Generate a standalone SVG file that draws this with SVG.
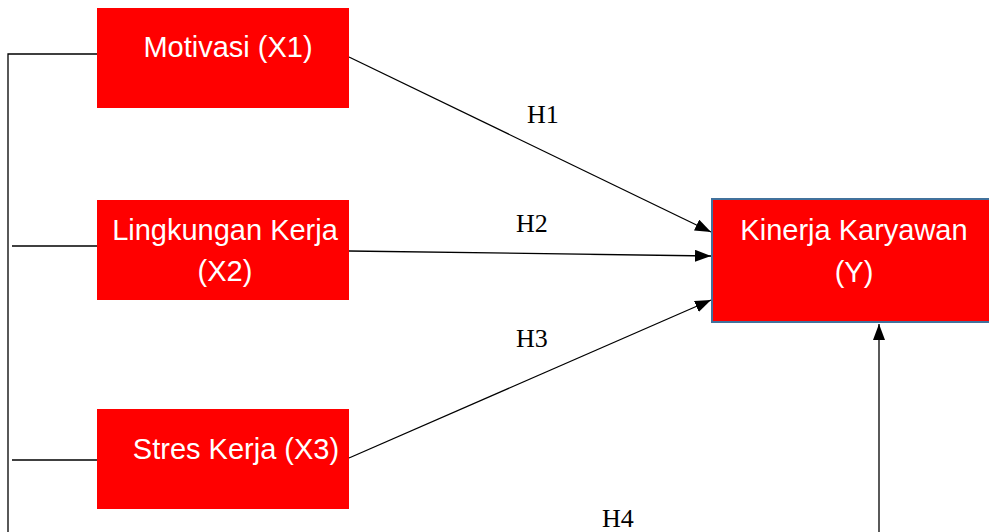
<svg xmlns="http://www.w3.org/2000/svg" width="989" height="532" viewBox="0 0 989 532">
<style>
.box{fill:#ff0000}
.lbl{font-family:"Liberation Sans",Arial,sans-serif;font-size:29px;fill:#ffffff}
.h{font-family:"Liberation Serif","Times New Roman",serif;font-size:26px;fill:#000000}
.ln{stroke:#000;stroke-width:1.3;fill:none}
</style>
<defs>
<marker id="ah" viewBox="0 0 16 12" refX="16" refY="6" markerWidth="16" markerHeight="12" markerUnits="userSpaceOnUse" orient="auto">
<path d="M0,0 L16,6 L0,12 Z" fill="#000"/>
</marker>
</defs>
<rect width="989" height="532" fill="#fff"/>
<g id="connectors">
<polyline class="ln" points="97,54 8,54 8,532"/>
<line class="ln" x1="12" y1="246" x2="100" y2="246"/>
<line class="ln" x1="12" y1="460" x2="97" y2="460"/>
<line class="ln" x1="349" y1="57" x2="711" y2="232" marker-end="url(#ah)"/>
<line class="ln" x1="349" y1="251" x2="711" y2="256" marker-end="url(#ah)"/>
<line class="ln" x1="349" y1="458" x2="711" y2="300" marker-end="url(#ah)"/>
<line class="ln" x1="879" y1="532" x2="879" y2="324" marker-end="url(#ah)"/>
</g>
<g id="x1">
<rect class="box" x="97" y="8" width="252" height="100"/>
<text class="lbl" x="228" y="57" text-anchor="middle">Motivasi (X1)</text>
</g>
<g id="x2">
<rect class="box" x="97" y="200" width="252" height="100"/>
<text class="lbl" x="225" y="240" text-anchor="middle">Lingkungan Kerja</text>
<text class="lbl" x="225" y="281" text-anchor="middle">(X2)</text>
</g>
<g id="x3">
<rect class="box" x="97" y="409" width="252" height="100"/>
<text class="lbl" x="236" y="459" text-anchor="middle">Stres Kerja (X3)</text>
</g>
<g id="y">
<rect class="box" x="712" y="199" width="282" height="123" stroke="#41719c" stroke-width="2"/>
<text class="lbl" x="854" y="240" text-anchor="middle">Kinerja Karyawan</text>
<text class="lbl" x="854" y="282" text-anchor="middle">(Y)</text>
</g>
<g id="labels">
<text class="h" x="527" y="123">H1</text>
<text class="h" x="516" y="232">H2</text>
<text class="h" x="516" y="347">H3</text>
<text class="h" x="602" y="527">H4</text>
</g>
</svg>
